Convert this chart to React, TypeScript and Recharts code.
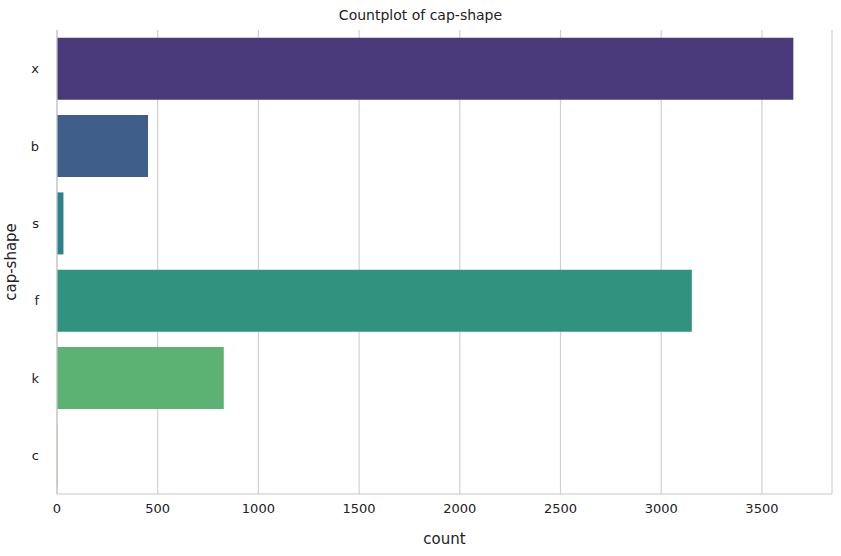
import { Bar, BarChart, CartesianGrid, Cell, Label, XAxis, YAxis } from 'recharts';

const capShapes = ['x', 'b', 's', 'f', 'k', 'c'];
const counts = [3656, 452, 32, 3152, 828, 4];
const barColors = ['#4a3a7b', '#3f5f8a', '#2c8289', '#31937f', '#5bb273', '#a3cc5e'];
const xTicks = [0, 500, 1000, 1500, 2000, 2500, 3000, 3500];

const data = capShapes.map((shape, i) => ({ shape, count: counts[i] }));

const font = 'DejaVu Sans, sans-serif';

export default function App() {
  return (
    <div style={{ position: 'absolute', left: 0, top: 0, fontFamily: font }}>
      <div style={{ position: 'absolute', top: 7, width: 841, textAlign: 'center', fontSize: 14, color: '#222' }}>
        Countplot of cap-shape
      </div>
      <BarChart
        width={841}
        height={556}
        data={data}
        layout="vertical"
        barCategoryGap="10%"
        margin={{ top: 30, right: 9, left: 0, bottom: 0 }}
      >
        <CartesianGrid horizontal={false} stroke="#d0d0d0" strokeWidth={1.2} />
        <XAxis
          type="number"
          dataKey="count"
          domain={[0, 3848]}
          ticks={xTicks}
          height={62}
          tickLine={false}
          axisLine={{ stroke: '#c8c8c8', strokeWidth: 1.2 }}
          tick={{ fill: '#222', fontSize: 13, fontFamily: font }}
          tickMargin={4}
        >
          <Label value="count" position="insideBottom" offset={12} style={{ fill: '#222', fontSize: 15, fontFamily: font }} />
        </XAxis>
        <XAxis xAxisId="top" orientation="top" type="number" domain={[0, 3848]} height={0} tick={false} tickLine={false} axisLine={{ stroke: '#c8c8c8', strokeWidth: 1.2 }} />
        <YAxis
          type="category"
          dataKey="shape"
          width={57}
          tickLine={false}
          axisLine={{ stroke: '#c8c8c8', strokeWidth: 1.2 }}
          tick={{ fill: '#222', fontSize: 13, fontFamily: font }}
          tickMargin={12}
        >
          <Label value="cap-shape" angle={-90} position="insideLeft" offset={11} style={{ fill: '#222', fontSize: 15, fontFamily: font, textAnchor: 'middle' }} />
        </YAxis>
        <YAxis yAxisId="right" orientation="right" type="category" dataKey="shape" width={0} tick={false} tickLine={false} axisLine={{ stroke: '#c8c8c8', strokeWidth: 1.2 }} />
        <Bar dataKey="count" isAnimationActive={false}>
          {data.map((d, i) => (
            <Cell key={d.shape} fill={barColors[i]} />
          ))}
        </Bar>
      </BarChart>
    </div>
  );
}
